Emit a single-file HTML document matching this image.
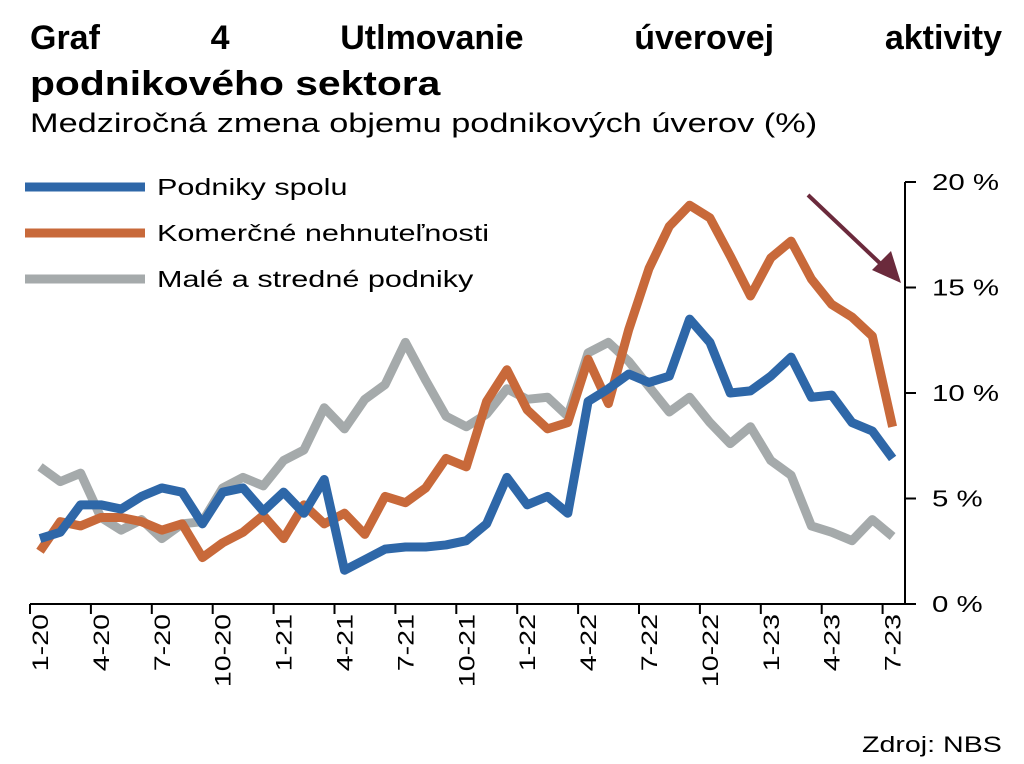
<!DOCTYPE html>
<html><head><meta charset="utf-8"><style>
body{margin:0;background:#fff;width:1024px;height:764px;overflow:hidden;font-family:"Liberation Sans",sans-serif}
.t{position:absolute;left:30px;width:972px;font-weight:bold;font-size:34px;line-height:40px;color:#000}
</style></head><body>
<div class="t" style="top:18px;text-align:justify;text-align-last:justify">Graf 4 Utlmovanie úverovej aktivity</div>
<div class="t" style="top:64px;width:auto;transform:scaleX(1.2);transform-origin:left">podnikového sektora</div>
<div style="position:absolute;left:30px;top:108px;font-size:27px;transform:scaleX(1.27);transform-origin:left;white-space:nowrap">Medziročná zmena objemu podnikových úverov (%)</div>
<svg id="c" width="1024" height="764" style="position:absolute;left:0;top:0"></svg>
<div style="position:absolute;left:862px;top:732px;font-size:22px;transform:scaleX(1.3);transform-origin:left;white-space:nowrap">Zdroj: NBS</div>
<script>
const blue=[3.1,3.4,4.7,4.7,4.5,5.1,5.5,5.3,3.8,5.3,5.5,4.4,5.3,4.3,5.9,1.6,2.1,2.6,2.7,2.7,2.8,3.0,3.8,6.0,4.7,5.1,4.3,9.6,10.2,10.9,10.5,10.8,13.5,12.4,10.0,10.1,10.8,11.7,9.8,9.9,8.6,8.2,6.9];
const orange=[2.5,3.9,3.7,4.1,4.1,3.9,3.5,3.8,2.2,2.9,3.4,4.2,3.1,4.7,3.8,4.3,3.3,5.1,4.8,5.5,6.9,6.5,9.6,11.1,9.2,8.3,8.6,11.6,9.5,13.0,15.9,17.9,18.9,18.3,16.5,14.6,16.4,17.2,15.4,14.2,13.6,12.7,8.4];
const gray=[6.5,5.8,6.2,4.1,3.5,4.0,3.1,3.8,3.9,5.5,6.0,5.6,6.8,7.3,9.3,8.3,9.7,10.4,12.4,10.6,8.9,8.4,9.0,10.2,9.7,9.8,8.9,11.9,12.4,11.5,10.3,9.1,9.8,8.6,7.6,8.4,6.8,6.1,3.7,3.4,3.0,4.0,3.2];
const xLabels=["1-20","4-20","7-20","10-20","1-21","4-21","7-21","10-21","1-22","4-22","7-22","10-22","1-23","4-23","7-23"];
const yTicks=[0,5,10,15,20];
const seriesNames=["Podniky spolu","Komerčné nehnuteľnosti","Malé a stredné podniky"];
const colors=["#2e67a8","#c8693a","#a5aaab"];
const NS="http://www.w3.org/2000/svg",svg=document.getElementById('c');
const X=i=>40+i*20.3, Y=v=>604-v*21.1;
function mk(t,a){const e=document.createElementNS(NS,t);for(const k in a)e.setAttribute(k,a[k]);svg.appendChild(e);return e;}
function widen(e,f){const w=e.getComputedTextLength();e.setAttribute('textLength',w*f);e.setAttribute('lengthAdjust','spacingAndGlyphs');}
let e=mk('line',{x1:30,y1:604,x2:905,y2:604,stroke:'#000','stroke-width':2});

e=mk('line',{x1:905,y1:182,x2:905,y2:605,stroke:'#000','stroke-width':2});

yTicks.forEach(v=>{
 e=mk('line',{x1:905,y1:Y(v),x2:916,y2:Y(v),stroke:'#000','stroke-width':2});
 
 e=mk('text',{x:932,y:Y(v)+8,'font-size':23,'font-family':'Liberation Sans'});e.textContent=v+' %';
 
 widen(e,1.28);
});
for(let i=0;i<=43;i+=3){
 e=mk('line',{x1:X(i)-10,y1:604,x2:X(i)-10,y2:614,stroke:'#000','stroke-width':2});
 
}
xLabels.forEach((l,k)=>{
 const x=X(k*3)+8;
 e=mk('text',{x:0,y:0,'font-size':22,'font-family':'Liberation Sans','text-anchor':'end',transform:`translate(${x},614) rotate(-90)`});e.textContent=l;
 
 widen(e,1.3);
});
[2,1,0].forEach(idx=>{
 const s=[blue,orange,gray][idx];
 e=mk('polyline',{points:s.map((v,i)=>X(i)+','+Y(v)).join(' '),fill:'none',stroke:colors[idx],'stroke-width':9,'stroke-linejoin':'round'});
 
});
seriesNames.forEach((n,k)=>{
 const y=187+k*46;
 e=mk('line',{x1:25,y1:y,x2:145,y2:y,stroke:colors[k],'stroke-width':9});
 
 e=mk('text',{x:157,y:y+8,'font-size':23,'font-family':'Liberation Sans'});e.textContent=n;
 
 widen(e,1.33);
});
e=mk('line',{x1:808,y1:195,x2:885,y2:268,stroke:'#6b2a3c','stroke-width':4});

e=mk('polygon',{points:'901,283 872,270 891,251',fill:'#6b2a3c'});

</script>
</body></html>
